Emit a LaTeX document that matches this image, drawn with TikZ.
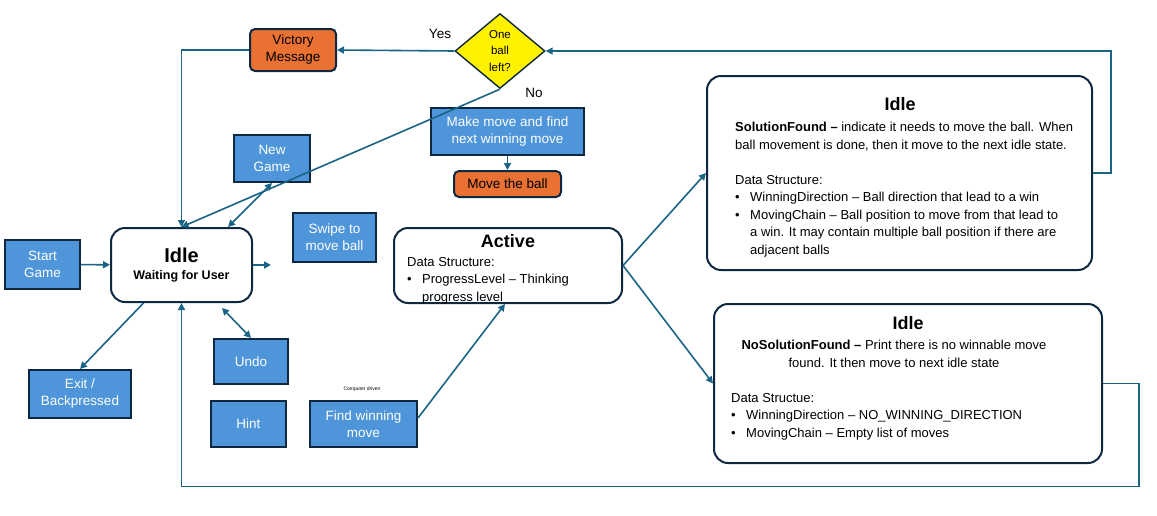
\documentclass[tikz,border=0pt]{standalone}
\usepackage{fontspec}
\setmainfont{Liberation Sans}
\usetikzlibrary{arrows.meta,shapes.geometric}
\definecolor{flow}{HTML}{1A6585}
\definecolor{rim}{HTML}{0E2841}
\definecolor{act}{HTML}{4E95D9}
\definecolor{warn}{HTML}{E97132}
\newcommand{\bul}{\makebox[15pt][l]{\textbullet}}
\newcommand{\ind}{\hspace*{15pt}}
\begin{document}
\begin{tikzpicture}[x=1pt,y=-1pt,
        box/.style={draw=rim, line width=2pt, fill=act, text=white, align=center, inner sep=0pt, font=\fontsize{13.5}{17}\selectfont},
        msg/.style={box, fill=warn, text=black, rounded corners=5pt},
        decide/.style={draw=rim, line width=1.4pt, fill=yellow, diamond, aspect=1.2, inner sep=0pt},
        state/.style={draw=rim, line width=2pt, fill=white, rounded corners=14pt, inner sep=0pt, align=center},
        body/.style={align=left, inner sep=0pt, font=\fontsize{13}{17.5}\selectfont},
        head/.style={inner sep=0pt, font=\fontsize{18}{20}\selectfont\bfseries},
        link/.style={draw=flow, line width=1.6pt, -{Triangle[length=7pt,width=7pt]}},
        both/.style={link, {Triangle[length=7pt,width=7pt]}-{Triangle[length=7pt,width=7pt]}},
    ]
    \useasboundingbox (0,0) rectangle (1157,515);

    % top row
    \node[msg, minimum width=86, minimum height=42] (victory) at (293,50) {Victory\\Message};
    \node[decide, minimum width=90, minimum height=75] (ask) at (500,51) {};
    \node[align=center, inner sep=0pt, font=\fontsize{11.5}{16.5}\selectfont] (asktxt) at (ask) {One\\ball\\left?};
    \node[font=\fontsize{13.5}{15}\selectfont] (yes) at (440,34) {Yes};
    \node[font=\fontsize{13.5}{15}\selectfont] (no) at (534,93) {No};
    \node[box, minimum width=153, minimum height=47] (makemove) at (507.5,131.5) {Make move and find\\next winning move};
    \node[msg, minimum width=107, minimum height=26] (moveball) at (507.5,184) {Move the ball};

    % user actions
    \node[box, minimum width=76, minimum height=47] (newgame) at (272,158.5) {New\\Game};
    \node[box, minimum width=83, minimum height=49] (swipe) at (334.5,237.5) {Swipe to\\move ball};
    \node[box, minimum width=75, minimum height=49] (start) at (42.5,264.5) {Start\\Game};
    \node[box, minimum width=102, minimum height=48] (exit) at (80,394) {Exit /\\Backpressed};
    \node[box, minimum width=74, minimum height=45] (undo) at (251,361.5) {Undo};
    \node[box, minimum width=75, minimum height=46] (hint) at (248.5,424) {Hint};
    \node[box, minimum width=107, minimum height=46] (find) at (363.5,424) {Find winning\\move};
    \node[font=\fontsize{5}{6}\selectfont] (driven) at (362,389) {Computer driven};

    % states
    \node[state, minimum width=141, minimum height=74, font=\fontsize{12.5}{17}\selectfont\bfseries] (idle) at (181.5,265)
        {{\fontsize{20}{22}\selectfont Idle}\\Waiting for User};
    \node[state, minimum width=228, minimum height=75] (active) at (508,265.5) {};
    \node[head] (activehd) at (508,241) {Active};
    \node[body, anchor=north west] (activetxt) at (407,257)
        {Data Structure:\\\bul ProgressLevel – Thinking\\\ind progress level};
    \node[state, minimum width=385, minimum height=194] (solved) at (899.5,173) {};
    \node[head] (solvedhd) at (900,104) {Idle};
    \node[body, anchor=north west] (solvedtxt) at (735,122)
        {\textbf{SolutionFound –} indicate it needs to move the ball. When\\
         ball movement is done, then it move to the next idle state.\\[17.5pt]
         Data Structure:\\
         \bul WinningDirection – Ball direction that lead to a win\\
         \bul MovingChain – Ball position to move from that lead to\\
         \ind a win. It may contain multiple ball position if there are\\
         \ind adjacent balls};
    \node[state, minimum width=388, minimum height=159] (nosol) at (908,383.5) {};
    \node[head] (nosolhd) at (908,323) {Idle};
    \node[body, align=center, anchor=north] (nosoltxt) at (894,340)
        {\textbf{NoSolutionFound –} Print there is no winnable move\\found. It then move to next idle state};
    \node[body, anchor=north west] (nosoldata) at (731,393)
        {Data Structue:\\
         \bul WinningDirection – NO\_WINNING\_DIRECTION\\
         \bul MovingChain – Empty list of moves};

    % connectors
    \draw[link] (ask.west) -- (victory.east);
    \draw[link] (victory.west) -| (idle.north);
    \draw[link] (ask.south) -- (idle.north);
    \draw[link] (solved.east) -- ++(18,0) |- (ask.east);
    \draw[link] (makemove) -- (moveball);
    \draw[both] (newgame.south) -- ([xshift=46.5]idle.north);
    \draw[link] (idle.east) -- ++(18,0);
    \draw[link] (start) -- (idle);
    \draw[link] ([xshift=-38]idle.south) -- (exit.north);
    \draw[both] ([xshift=40.5,yshift=-5]idle.south) -- (undo.north);
    \draw[link] ([yshift=6]find.east) -- ([xshift=-3]active.south);
    \draw[link] (active.east) -- (solved.west);
    \draw[link] (active.east) -- (nosol.west);
    \draw[link] (nosol.east) -- ++(36,0) -- ++(0,103) -| (idle.south);
\end{tikzpicture}
\end{document}
